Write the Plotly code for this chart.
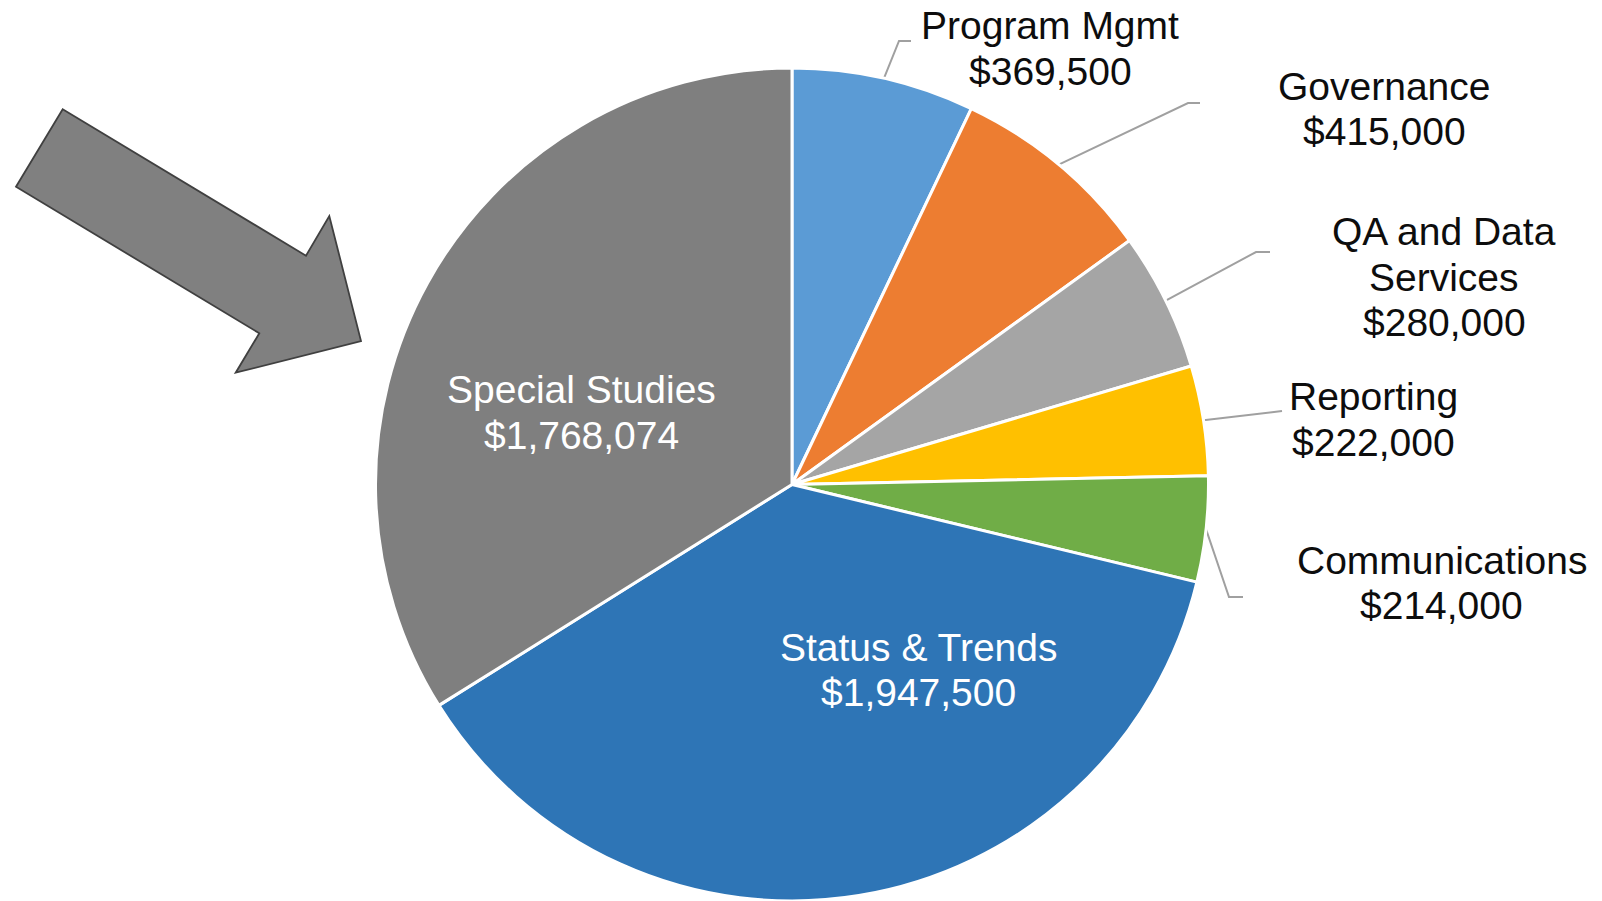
import math
import plotly.graph_objects as go

# Budget allocation by program area (USD)
categories = ["Program Mgmt", "Governance", "QA and Data Services", "Reporting",
              "Communications", "Status & Trends", "Special Studies"]
budget = [369500, 415000, 280000, 222000, 214000, 1947500, 1768074]
slice_colors = ["#5B9BD5", "#ED7D31", "#A5A5A5", "#FFC000",
                "#70AD47", "#2E75B6", "#7F7F7F"]
# how each category name is wrapped in its label
name_lines = [["Program Mgmt"], ["Governance"], ["QA and Data", "Services"],
              ["Reporting"], ["Communications"], ["Status & Trends"],
              ["Special Studies"]]

# ---- page geometry (pixels) ----
W, H = 1602, 901
CX, CY, R = 792, 484.5, 416.5

# centre of each label block's first line, and line pitch
label_pos = [(1050, 25.5), (1384, 86), (1444, 231.5), (1373, 396.5),
             (1441.5, 560), (918.5, 647), (581, 389.5)]
LINE_GAP = 45.5
inside = [False, False, False, False, False, True, True]

# leader-line bends after leaving the slice edge
leader_bends = {
    0: [(899, 41), (911, 41)],
    1: [(1188, 103), (1200, 103)],
    2: [(1256, 252), (1270, 252)],
    3: [(1282, 411)],
    4: [(1229, 597), (1243, 597)],
}

FONT = "Liberation Sans, Arial, Helvetica, sans-serif"
FS = 39

fig = go.Figure()

fig.add_trace(go.Pie(
    labels=categories, values=budget, sort=False, direction="clockwise",
    rotation=0, textinfo="none", hoverinfo="label+value",
    marker=dict(colors=slice_colors, line=dict(color="white", width=3)),
    domain=dict(x=[(CX - R) / W, (CX + R) / W],
                y=[max(0, 1 - (CY + R) / H), 1 - (CY - R) / H]),
    showlegend=False,
))

# leader lines start at the outer edge of each slice's mid-angle
total = sum(budget)
cum = 0
for i, v in enumerate(budget):
    mid = (cum + v / 2) / total * 2 * math.pi
    cum += v
    if i not in leader_bends:
        continue
    x0 = CX + R * math.sin(mid)
    y0 = CY - R * math.cos(mid)
    xs = [x0] + [p[0] for p in leader_bends[i]]
    ys = [y0] + [p[1] for p in leader_bends[i]]
    fig.add_trace(go.Scatter(x=xs, y=ys, mode="lines", hoverinfo="skip",
                             line=dict(color="#A0A0A0", width=2),
                             showlegend=False, xaxis="x", yaxis="y"))

# labels: category name lines followed by the dollar amount
annotations = []
for i, (lines, v) in enumerate(zip(name_lines, budget)):
    cx, cy = label_pos[i]
    color = "white" if inside[i] else "#0D0D0D"
    for j, txt in enumerate(lines + [f"${v:,}"]):
        annotations.append(dict(
            x=cx, y=cy + j * LINE_GAP, xref="x", yref="y", text=txt,
            showarrow=False, xanchor="center", yanchor="middle",
            font=dict(family=FONT, size=FS, color=color),
        ))

# block arrow pointing at the Special Studies slice
arrow_path = ("M 62.7 109.3 L 306 255.7 L 329.3 216 L 361 341 "
              "L 235.7 372.7 L 259.3 333.3 L 16 186.7 Z")

fig.update_layout(
    width=W, height=H,
    margin=dict(l=0, r=0, t=0, b=0, pad=0),
    paper_bgcolor="white", plot_bgcolor="white",
    xaxis=dict(range=[0, W], visible=False, fixedrange=True, domain=[0, 1]),
    yaxis=dict(range=[H, 0], visible=False, fixedrange=True, domain=[0, 1]),
    showlegend=False,
    annotations=annotations,
    shapes=[dict(type="path", path=arrow_path, xref="x", yref="y",
                 fillcolor="#808080", line=dict(color="#404040", width=1.8),
                 layer="above")],
)

fig.write_html("out.html", config={"displayModeBar": False})
